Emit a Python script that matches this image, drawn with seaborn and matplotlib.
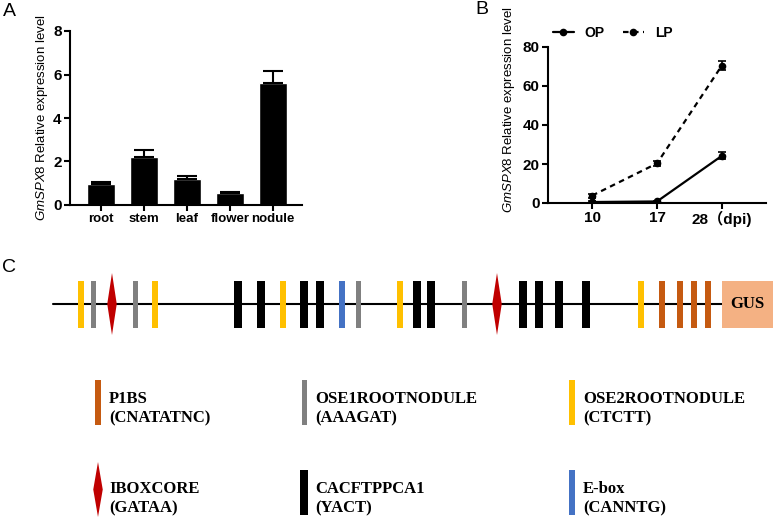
import matplotlib
matplotlib.use("Agg")
import matplotlib.pyplot as plt
import seaborn as sns
import pandas as pd
import numpy as np

# panel A: tissue expression
tissues = ["root", "stem", "leaf", "flower", "nodule"]
tissue_expr = [0.97, 2.2, 1.2, 0.57, 5.6]
tissue_err = [0.08, 0.33, 0.13, 0.04, 0.57]

# panel B: time course under OP / LP
dpi_labels = ["10", "17", "28（dpi)"]
op_expr = [0.5, 0.8, 24.2]
op_err = [0.5, 0.4, 1.8]
lp_expr = [3.8, 20.3, 70.5]
lp_err = [1.0, 1.4, 2.2]

# panel C: promoter motifs (position along the drawn promoter, type)
promoter_span = [53, 722]
motif_pos = [81, 93, 112, 135, 155, 238, 261, 283, 304, 320, 342, 358, 400,
             417, 431, 464, 497, 523, 539, 559, 586, 641, 662, 680, 694, 708]
motif_type = ["OSE2", "OSE1", "IBOX", "OSE1", "OSE2", "CACF", "CACF", "OSE2",
              "CACF", "CACF", "EBOX", "OSE1", "OSE2", "CACF", "CACF", "OSE1",
              "IBOX", "CACF", "CACF", "CACF", "CACF", "OSE2", "P1BS", "P1BS",
              "P1BS", "P1BS"]
legend_types = ["P1BS", "OSE1", "OSE2", "IBOX", "CACF", "EBOX"]
legend_names = ["P1BS", "OSE1ROOTNODULE", "OSE2ROOTNODULE",
                "IBOXCORE", "CACFTPPCA1", "E-box"]
legend_codes = ["(CNATATNC)", "(AAAGAT)", "(CTCTT)",
                "(GATAA)", "(YACT)", "(CANNTG)"]

motif_style = {
    "P1BS": ("#C55A11", 6),
    "OSE1": ("#808080", 5),
    "OSE2": ("#FFC000", 5.5),
    "IBOX": ("#C00000", 9.5),
    "CACF": ("#000000", 8),
    "EBOX": ("#4472C4", 6.5),
}

sns.set_theme(style="ticks")
plt.rcParams["font.family"] = ["Liberation Sans", "Noto Sans CJK SC"]
plt.rcParams["mathtext.fontset"] = "custom"
plt.rcParams["mathtext.it"] = "Liberation Sans:italic"
plt.rcParams["mathtext.rm"] = "Liberation Sans"
for key in ["text.color", "axes.labelcolor", "xtick.color", "ytick.color",
            "axes.edgecolor"]:
    plt.rcParams[key] = "black"

W, H = 777, 520
fig = plt.figure(figsize=(W / 100, H / 100), dpi=100)


def frac(x0, y0, x1, y1):
    return [x0 / W, 1 - y1 / H, (x1 - x0) / W, (y1 - y0) / H]


def style_axis(ax, xsize):
    sns.despine(ax=ax)
    for s in ["left", "bottom"]:
        ax.spines[s].set_linewidth(1.5)
        ax.spines[s].set_color("black")
    ax.tick_params(width=1.5, length=4, pad=2, colors="black")
    ax.tick_params(axis="x", labelsize=xsize)
    ax.tick_params(axis="y", labelsize=11)
    for t in ax.get_xticklabels() + ax.get_yticklabels():
        t.set_fontweight("bold")


# ---- A ----
ax_a = fig.add_axes(frac(70, 31, 302, 205))
sns.barplot(x=tissues, y=tissue_expr, color="black", saturation=1,
            width=0.65, errorbar=None, ax=ax_a)
ax_a.errorbar(np.arange(len(tissues)), tissue_expr,
              yerr=[np.zeros(len(tissues)), tissue_err], fmt="none",
              ecolor="black", elinewidth=1.5, capsize=7, capthick=1.5)
ax_a.set_ylim(0, 8)
ax_a.set_yticks([0, 2, 4, 6, 8])
ax_a.set_xlim(-0.72, 4.67)
ax_a.set_ylabel(r"$\it{GmSPX8}$ Relative expression level", fontsize=9.5)
ax_a.yaxis.set_label_coords(-0.085, 0.5)
style_axis(ax_a, 9.5)

# ---- B ----
ax_b = fig.add_axes(frac(548, 47, 766, 203))
df_b = pd.DataFrame({
    "pos": list(range(3)) * 2,
    "expr": op_expr + lp_expr,
    "group": ["OP"] * 3 + ["LP"] * 3,
})
sns.lineplot(data=df_b, x="pos", y="expr", style="group",
             markers=["o", "o"], dashes=["", (2.5, 2)], color="black",
             lw=1.6, markersize=5.5, markeredgewidth=0, ax=ax_b)
ax_b.errorbar(range(3), op_expr, yerr=op_err, fmt="none", ecolor="black",
              elinewidth=1.2, capsize=3, capthick=1.2)
ax_b.errorbar(range(3), lp_expr, yerr=lp_err, fmt="none", ecolor="black",
              elinewidth=1.2, capsize=3, capthick=1.2)
handles, labels = ax_b.get_legend_handles_labels()
ax_b.get_legend().remove()
fig.legend(handles, labels, loc="center left",
           bbox_to_anchor=(550 / W, 1 - 33 / H), ncol=2, frameon=False,
           prop={"weight": "bold", "size": 10}, handlelength=1.5,
           handletextpad=0.8, columnspacing=1.3, borderaxespad=0,
           borderpad=0.2)
ax_b.set_xlim(-0.68, 2.68)
ax_b.set_ylim(0, 80)
ax_b.set_yticks([0, 20, 40, 60, 80])
ax_b.set_xticks(range(3))
ax_b.set_xticklabels(dpi_labels)
ax_b.set_xlabel("")
ax_b.set_ylabel(r"$\it{GmSPX8}$ Relative expression level", fontsize=9.5)
ax_b.yaxis.set_label_coords(-0.14, 0.6)
style_axis(ax_b, 11)

# ---- C ----
ax_c = fig.add_axes([0, 0, 1, 1])
ax_c.set_xlim(0, W)
ax_c.set_ylim(H, 0)
ax_c.axis("off")
ax_c.set_zorder(-1)

line_y = 304
bar_top, bar_h = 281, 47
dia_top, dia_bot = 273, 335
ax_c.plot(promoter_span, [line_y, line_y], color="black", lw=1.5, zorder=1)


def draw_motif(ax, x, kind, top, height):
    color, w = motif_style[kind]
    if kind == "IBOX":
        yc = top + height / 2
        ax.fill([x - w / 2, x, x + w / 2, x], [yc, top, yc, top + height],
                color=color, lw=0, zorder=2)
    else:
        ax.bar(x, height, width=w, bottom=top, color=color, lw=0, zorder=2)


for x, kind in zip(motif_pos, motif_type):
    if kind == "IBOX":
        draw_motif(ax_c, x, kind, dia_top, dia_bot - dia_top)
    else:
        draw_motif(ax_c, x, kind, bar_top, bar_h)

ax_c.bar((promoter_span[1] + 773) / 2, bar_h, width=773 - promoter_span[1],
         bottom=bar_top, color="#F4B183", lw=0, zorder=2)
ax_c.text((promoter_span[1] + 773) / 2, line_y, "GUS", ha="center",
          va="center", family="Liberation Serif", weight="bold", size=12)

# legend of motifs
col_x = [98, 304, 572]
row_y = [399, 489]
for i, kind in enumerate(legend_types):
    cx = col_x[i % 3]
    ty = row_y[i // 3]
    if kind == "IBOX":
        draw_motif(ax_c, cx, kind, ty - 27, 55)
    else:
        draw_motif(ax_c, cx, kind, ty - 19, 45)
    ax_c.text(cx + 11, ty, legend_names[i], ha="left", va="center",
              family="Liberation Serif", weight="bold", size=12)
    ax_c.text(cx + 11, ty + 19, legend_codes[i], ha="left", va="center",
              family="Liberation Serif", weight="bold", size=12)

# panel letters
fig.text(3 / W, 1 - 11 / H, "A", ha="left", va="center", size=14)
fig.text(475 / W, 1 - 10 / H, "B", ha="left", va="center", size=14)
fig.text(2 / W, 1 - 267 / H, "C", ha="left", va="center", size=14)

fig.savefig("out.png", dpi=100)
